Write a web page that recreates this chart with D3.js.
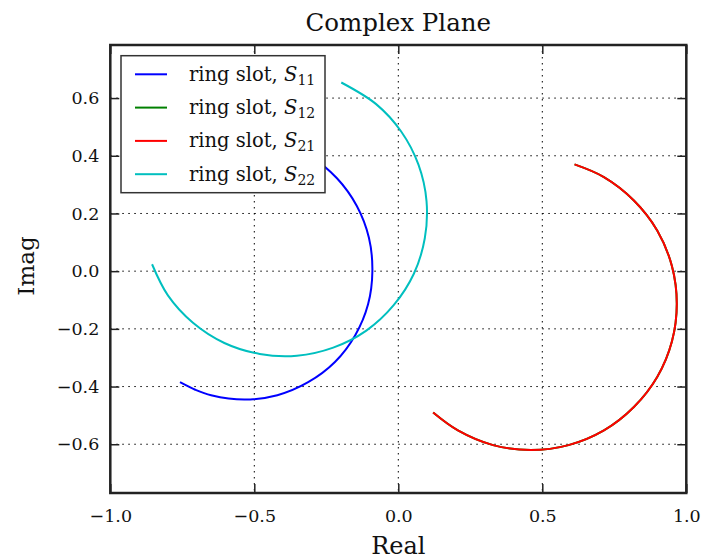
<!DOCTYPE html>
<html>
<head>
<meta charset="utf-8">
<script src="https://cdn.jsdelivr.net/npm/d3@7"></script>
<style>
  body { margin: 0; background: #fff; }
  svg { display: block; }
  text { font-family: "DejaVu Serif", "Liberation Serif", serif; fill: #111; }
</style>
</head>
<body>
<svg id="chart" width="702" height="560"></svg>
<script>
// Ring slot S-parameters on the complex plane (real / imaginary parts)
const s11Re = [-0.758, -0.705, -0.650, -0.535, -0.420, -0.313, -0.220, -0.150, -0.105, -0.090, -0.102, -0.144, -0.213, -0.305, -0.415, -0.535];
const s11Im = [-0.385, -0.411, -0.430, -0.445, -0.430, -0.385, -0.315, -0.223, -0.115, 0.000, 0.116, 0.226, 0.322, 0.398, 0.449, 0.470];

const s12Re = [0.121, 0.207, 0.329, 0.460, 0.591, 0.714, 0.818, 0.899, 0.950, 0.967, 0.950, 0.899, 0.818, 0.714, 0.612];
const s12Im = [-0.490, -0.552, -0.603, -0.620, -0.603, -0.552, -0.471, -0.367, -0.244, -0.113, 0.018, 0.141, 0.245, 0.326, 0.370];

const s21Re = [0.121, 0.207, 0.329, 0.460, 0.591, 0.714, 0.818, 0.899, 0.950, 0.967, 0.950, 0.899, 0.818, 0.714, 0.612];
const s21Im = [-0.490, -0.552, -0.603, -0.620, -0.603, -0.552, -0.471, -0.367, -0.244, -0.113, 0.018, 0.141, 0.245, 0.326, 0.370];

const s22Re = [-0.855, -0.800, -0.713, -0.604, -0.481, -0.352, -0.226, -0.111, -0.016, 0.054, 0.092, 0.098, 0.070, 0.010, -0.077, -0.198];
const s22Im = [0.024, -0.084, -0.179, -0.249, -0.287, -0.293, -0.265, -0.206, -0.118, -0.009, 0.114, 0.243, 0.369, 0.484, 0.579, 0.654];

const seriesNames = ["11", "12", "21", "22"];
const seriesColors = ["#0000ff", "#008000", "#ff0000", "#00bfbf"];

const xTicks = [-1.0, -0.5, 0.0, 0.5, 1.0];
const yTicks = [-0.6, -0.4, -0.2, 0.0, 0.2, 0.4, 0.6];

const xDomain = [-1.0, 1.0];
const yDomain = [-0.769, 0.784];

// Build the series table from the arrays above
const series = [
  { name: seriesNames[0], color: seriesColors[0], pts: s11Re.map((r, i) => [r, s11Im[i]]) },
  { name: seriesNames[1], color: seriesColors[1], pts: s12Re.map((r, i) => [r, s12Im[i]]) },
  { name: seriesNames[2], color: seriesColors[2], pts: s21Re.map((r, i) => [r, s21Im[i]]) },
  { name: seriesNames[3], color: seriesColors[3], pts: s22Re.map((r, i) => [r, s22Im[i]]) }
];

const svg = d3.select("#chart");
const plotL = 110.3, plotR = 686.3, plotT = 45, plotB = 493;

const x = d3.scaleLinear().domain(xDomain).range([plotL, plotR]);
const y = d3.scaleLinear().domain(yDomain).range([plotB, plotT]);

const fmt = v => d3.format(".1f")(v).replace("-", "\u2212");

svg.append("defs").append("clipPath").attr("id", "plotArea")
  .append("rect").attr("x", plotL).attr("y", plotT)
  .attr("width", plotR - plotL).attr("height", plotB - plotT);

// Dotted grid
const grid = svg.append("g").attr("stroke", "#000").attr("stroke-width", 1)
  .attr("stroke-dasharray", "1.5,4.5");
grid.selectAll(".gx").data(xTicks.filter(t => t > xDomain[0] && t < xDomain[1]))
  .join("line")
  .attr("x1", d => x(d)).attr("x2", d => x(d))
  .attr("y1", plotT).attr("y2", plotB);
grid.selectAll(".gy").data(yTicks)
  .join("line")
  .attr("x1", plotL).attr("x2", plotR)
  .attr("y1", d => y(d)).attr("y2", d => y(d));

// Curves
const line = d3.line().x(d => x(d[0])).y(d => y(d[1])).curve(d3.curveCatmullRom.alpha(0.5));
svg.append("g").attr("clip-path", "url(#plotArea)")
  .selectAll("path").data(series).join("path")
  .attr("d", d => line(d.pts))
  .attr("fill", "none")
  .attr("stroke", d => d.color)
  .attr("stroke-width", 2)
  .attr("stroke-linejoin", "round");

// Axes with inward ticks on all four sides
const tickLen = 9;
const axB = svg.append("g").attr("transform", `translate(0,${plotB})`)
  .call(d3.axisBottom(x).tickValues(xTicks).tickSizeInner(-tickLen).tickSizeOuter(0).tickPadding(17).tickFormat(fmt));
const axT = svg.append("g").attr("transform", `translate(0,${plotT})`)
  .call(d3.axisTop(x).tickValues(xTicks).tickSizeInner(-tickLen).tickSizeOuter(0).tickFormat(""));
const axL = svg.append("g").attr("transform", `translate(${plotL},0)`)
  .call(d3.axisLeft(y).tickValues(yTicks).tickSizeInner(-tickLen).tickSizeOuter(0).tickPadding(11).tickFormat(fmt));
const axR = svg.append("g").attr("transform", `translate(${plotR},0)`)
  .call(d3.axisRight(y).tickValues(yTicks).tickSizeInner(-tickLen).tickSizeOuter(0).tickFormat(""));

[axB, axT, axL, axR].forEach(a => {
  a.select(".domain").remove();
  a.selectAll(".tick line").attr("stroke", "#222").attr("stroke-width", 1.5);
  a.selectAll(".tick text").attr("font-family", "DejaVu Serif").attr("font-size", 17.5).attr("fill", "#222");
});

// Frame
svg.append("rect").attr("x", plotL).attr("y", plotT)
  .attr("width", plotR - plotL).attr("height", plotB - plotT)
  .attr("fill", "none").attr("stroke", "#222").attr("stroke-width", 2.5);

// Titles
svg.append("text").attr("x", (plotL + plotR) / 2).attr("y", 31)
  .attr("text-anchor", "middle").attr("font-size", 24.5).text("Complex Plane");
svg.append("text").attr("x", (plotL + plotR) / 2).attr("y", 554)
  .attr("text-anchor", "middle").attr("font-size", 24).text("Real");
svg.append("text").attr("transform", `translate(34,266) rotate(-90)`)
  .attr("text-anchor", "middle").attr("font-size", 23).text("Imag");

// Legend
const lg = svg.append("g");
lg.append("rect").attr("x", 121).attr("y", 55.7).attr("width", 204).attr("height", 137)
  .attr("fill", "#fff").attr("stroke", "#333").attr("stroke-width", 1.5);
const rows = lg.selectAll("g.row").data(series).join("g")
  .attr("transform", (d, i) => `translate(0,${74.3 + i * 33.3})`);
rows.append("line").attr("x1", 135).attr("x2", 167).attr("y1", 0).attr("y2", 0)
  .attr("stroke", d => d.color).attr("stroke-width", 2);
const lt = rows.append("text").attr("x", 189).attr("y", 6.5).attr("font-size", 19.5);
lt.append("tspan").text("ring slot, ");
lt.append("tspan").attr("font-style", "italic").text("S");
lt.append("tspan").attr("font-size", 14).attr("dy", 4).text(d => d.name);
</script>
</body>
</html>
